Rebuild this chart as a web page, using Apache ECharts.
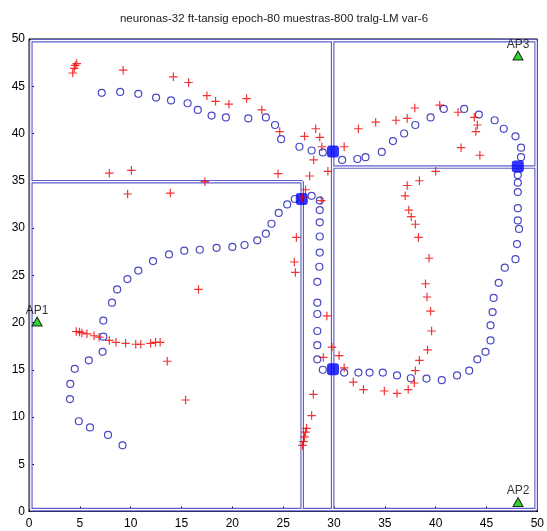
<!DOCTYPE html>
<html>
<head>
<meta charset="utf-8">
<script src="https://cdn.jsdelivr.net/npm/echarts@6/dist/echarts.min.js"></script>
<style>
html,body{margin:0;padding:0;background:#fff;}
#chart{width:547px;height:531px;}
</style>
</head>
<body>
<div id="chart"></div>
<script>
var titleText = 'neuronas-32 ft-tansig epoch-80 muestras-800 tralg-LM var-6';
var axisTicks = [0, 5, 10, 15, 20, 25, 30, 35, 40, 45, 50];

// blue circles (estimated positions)
var estimated = [
[9.2,7.0],[7.77,8.1],[6.0,8.9],[4.9,9.55],[4.03,11.9],[4.06,13.5],[4.5,15.1],[5.88,16.0],[7.24,16.9],[7.31,18.5],
[7.31,20.2],[8.16,22.1],[8.67,23.5],[9.68,24.6],[10.75,25.5],[12.2,26.5],[13.77,27.2],[15.27,27.6],[16.8,27.7],[18.45,27.9],
[20.0,28.0],[21.2,28.2],[22.45,28.7],[23.3,29.4],[23.85,30.45],[24.56,31.6],[25.4,32.5],[26.15,33.07],[27.8,33.4],[28.6,32.9],
[28.6,31.9],[28.6,30.6],[28.6,29.1],[28.6,27.4],[28.56,25.9],[28.36,24.3],[28.36,22.1],[28.36,20.9],[28.36,19.1],[28.36,17.6],
[28.36,16.1],[28.9,15.0],[31.0,14.7],[32.4,14.7],[33.5,14.7],[34.8,14.7],[36.2,14.4],[37.55,14.1],[39.1,14.07],[40.6,13.9],
[42.1,14.4],[43.3,14.9],[44.1,16.1],[44.9,16.9],[45.4,18.1],[45.4,19.7],[45.6,21.1],[45.7,22.6],[46.2,24.2],[46.8,25.8],
[47.85,26.7],[48.0,28.3],[48.2,29.9],[48.08,30.8],[48.08,32.1],[48.08,33.8],[48.08,34.8],[48.08,35.6],[48.4,37.5],[48.4,38.5],
[47.85,39.7],[46.7,40.5],[45.8,41.4],[44.25,42.0],[42.8,42.6],[40.8,42.6],[39.5,41.7],[38.0,40.9],[36.9,40.0],[35.8,39.2],
[34.7,38.05],[33.1,37.5],[32.3,37.3],[30.8,37.2],[28.9,38.0],[27.8,38.2],[26.6,38.6],[24.8,39.4],[24.2,40.9],[23.3,41.7],
[21.57,41.6],[19.37,41.7],[17.96,41.9],[16.6,42.5],[15.6,43.2],[13.97,43.5],[12.5,43.8],[10.75,44.2],[8.97,44.4],[7.15,44.3]
];

// red crosses (measured positions)
var measured = [
[4.3,46.4],[4.45,46.9],[4.55,47.2],[4.7,47.4],
[9.26,46.7],[14.2,46.0],[15.7,45.4],
[7.9,35.8],[10.07,36.1],[9.7,33.6],[13.9,33.7],[17.3,34.9],
[17.5,44.0],[18.35,43.4],[19.66,43.1],[21.4,43.7],[22.9,42.5],[24.66,40.2],
[27.1,39.7],[28.2,40.5],[28.6,39.6],[28.8,38.6],[28.0,37.2],[31.0,38.6],
[24.5,35.75],[27.6,35.5],[29.4,36.0],[27.2,34.05],
[32.4,40.5],[34.1,41.2],[36.1,41.4],[37.2,41.6],[37.95,42.7],[40.4,43.0],[42.2,42.25],[43.8,41.7],[44.1,40.9],[43.95,40.2],[42.5,38.5],[44.35,37.7],
[40.0,36.0],[38.4,35.0],[37.2,34.5],[37.0,33.4],[37.36,31.9],[37.6,31.2],[38.0,30.4],[38.3,29.0],[39.35,26.8],[39.0,24.1],
[39.15,22.7],[39.5,21.2],[39.6,19.1],[39.2,17.1],[38.4,16.0],[38.0,14.9],[37.9,13.6],[37.3,12.9],[36.2,12.5],[34.95,12.75],
[29.8,17.4],[30.5,16.5],[28.95,16.3],[31.0,15.2],[31.9,13.7],[32.9,12.9],
[27.97,12.4],[27.8,10.15],[27.3,8.8],[27.2,8.4],[27.1,7.9],[27.0,7.4],[26.9,7.0],
[26.9,33.2],[28.75,32.9],[26.3,29.0],[26.1,26.4],[26.2,25.3],[29.3,20.7],
[16.67,23.5],
[4.65,19.05],[4.97,19.0],[5.2,18.9],[5.7,18.8],[6.4,18.6],[6.9,18.45],[7.9,18.1],[8.55,17.9],[9.5,17.8],[10.5,17.7],
[11.0,17.7],[11.96,17.8],[12.45,17.9],[12.9,17.9],
[13.6,15.9],[15.4,11.8]
];

// blue filled squares (region centres)
var centres = [[26.83,33.07],[29.9,38.1],[29.9,15.06],[48.08,36.5]];

// access points
var apNames = ['AP1', 'AP2', 'AP3'];
var apPoints = [[0.8,20.1],[48.1,1.0],[48.1,48.25]];

// region boundary polylines
var outerBox = [[0.18,0.2],[49.88,0.2],[49.88,49.82],[0.18,49.82],[0.18,0.2]];
var leftLowerEdge = [[0.18,34.9],[26.87,34.9],[26.87,0.2]];
var middleEdge = [[29.87,0.2],[29.87,49.82]];
var rightEdge = [[29.87,36.45],[49.88,36.45]];
var boundaries = [outerBox, leftLowerEdge, middleEdge, rightEdge];

var FONT = '"Liberation Sans", Arial, sans-serif';
var plusPath = 'path://M4.3,0H5.7V4.3H10V5.7H5.7V10H4.3V5.7H0V4.3H4.3Z';

var series = [];
boundaries.forEach(function (b) {
  series.push({
    type: 'line', data: b, symbol: 'none', silent: true, z: 1,
    lineStyle: { color: '#5f5fcc', width: 3.6 }, animation: false
  });
});
boundaries.forEach(function (b) {
  series.push({
    type: 'line', data: b, symbol: 'none', silent: true, z: 2,
    lineStyle: { color: '#ffffff', width: 1.3 }, animation: false
  });
});
series.push({
  type: 'scatter', data: estimated, symbol: 'circle', symbolSize: 7, z: 3,
  itemStyle: { color: 'rgba(0,0,0,0)', borderColor: '#1a1ab4', borderWidth: 1.2 }
});
series.push({
  type: 'scatter', data: centres, symbol: 'roundRect', symbolSize: 12, z: 4,
  itemStyle: { color: '#0000ff' }
});
series.push({
  type: 'scatter', data: measured, symbol: plusPath, symbolSize: 8.5, z: 5,
  itemStyle: { color: '#f00000' }
});
series.push({
  type: 'scatter', z: 6,
  data: apPoints.map(function (p, i) { return { name: apNames[i], value: p }; }),
  symbol: 'triangle', symbolSize: [10, 9],
  itemStyle: { color: '#00c800', borderColor: '#000', borderWidth: 1 },
  label: {
    show: true, position: 'top', distance: 0, formatter: '{b}',
    color: '#000', fontSize: 12, fontFamily: FONT
  }
});

var axisCommon = {
  type: 'value', min: 0, max: 50, interval: 5,
  axisLine: { show: true, lineStyle: { color: '#000', width: 1 } },
  axisTick: { show: true, inside: true, length: 5, lineStyle: { color: '#000' } },
  axisLabel: { color: '#000', fontSize: 12, fontFamily: FONT,
    formatter: function (v) { return axisTicks.indexOf(v) >= 0 ? String(v) : ''; } },
  splitLine: { show: false }
};

var chart = echarts.init(document.getElementById('chart'), null, { renderer: 'canvas' });
chart.setOption({
  animation: false,
  backgroundColor: '#ffffff',
  title: {
    text: titleText, left: 269, top: 8, textAlign: 'center',
    textStyle: { fontSize: 11.5, fontWeight: 'normal', color: '#222', fontFamily: FONT }
  },
  grid: { left: 29, right: 5, top: 39, bottom: 19.5, show: true, borderColor: '#000', borderWidth: 1 },
  xAxis: Object.assign({}, axisCommon, { axisLabel: Object.assign({}, axisCommon.axisLabel, { margin: 6 }) }),
  yAxis: Object.assign({}, axisCommon, { axisLabel: Object.assign({}, axisCommon.axisLabel, { margin: 4 }) }),
  series: series
});
</script>
</body>
</html>
